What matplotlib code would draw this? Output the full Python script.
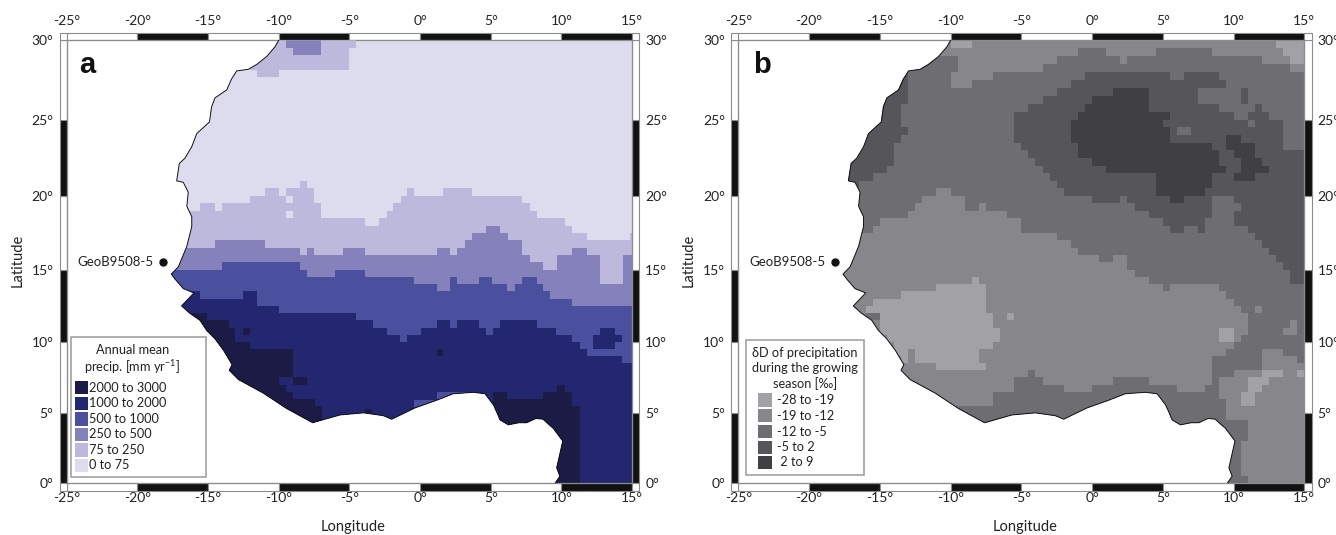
#!/usr/bin/env python3
"""West Africa maps: a) annual mean precipitation, b) dD of growing season rain."""
import numpy as np
import matplotlib
matplotlib.use("Agg")
import matplotlib.pyplot as plt
from matplotlib.colors import ListedColormap, BoundaryNorm
from matplotlib.patches import Polygon, Rectangle
from matplotlib.path import Path
from matplotlib.transforms import ScaledTranslation

W, H = 1336, 535
plt.rcParams["font.family"] = ["Lato", "DejaVu Sans"]

LON_TICKS = [-25, -20, -15, -10, -5, 0, 5, 10, 15]
LAT_TICKS = [0, 5, 10, 15, 20, 25, 30]
SITE_LON, SITE_LAT = -18.2, 15.5
SITE_NAME = "GeoB9508-5"

COAST_LON = [-10, -10.26, -10.85, -11.56, -12.15, -12.97, -13.33, -13.68, -14.5, -14.74, -14.9,
             -15.8, -16.15, -16.63, -17.03, -17.22, -16.75, -16.4, -16.5, -16.15, -16.15, -16.5,
             -17.1, -17.6, -17.33, -16.75, -16.0, -16.87, -16.3, -15.57, -15.1, -14.5, -13.9, -13.3,
             -13.5, -12.85, -11.1, -9.43, -7.6, -5.66, -4.0, -2.6, -2.0, -0.35, 1.2, 2.35,
             3.77, 4.6, 5.2, 5.45, 5.66, 6.25, 7.0, 7.55, 8.2, 8.7, 9.2, 9.43, 10.1, 9.67, 9.9, 9.55]
COAST_LAT = [30, 29.6, 29.0, 28.5, 28.2, 28.1, 27.6, 26.9, 26.4, 25.85, 24.85,
             24.1, 23.25, 22.5, 22.15, 21.0, 20.9, 20.25, 19.3, 18.6, 17.95, 16.6,
             15.2, 14.7, 14.35, 13.7, 13.4, 12.5, 12.0, 11.5, 10.8, 10.2, 9.4, 8.4,
             8.0, 7.35, 6.4, 5.3, 4.3, 4.85, 5.0, 4.8, 4.55, 5.35, 5.9, 6.35,
             6.45, 6.35, 5.55, 5.0, 4.5, 4.15, 4.3, 4.3, 4.6, 4.55, 4.1, 3.9, 3.0, 1.1, 0.5, 0]

# panel a: classes, northern limit of each class as a step line (lon edges, lat)
PRECIP_LABELS = ["2000 to 3000", "1000 to 2000", "500 to 1000", "250 to 500", "75 to 250", "0 to 75"]
PRECIP_COLORS = ["#1b1b45", "#23276f", "#4a509d", "#8581bb", "#bdb9dc", "#dcdcee"]

LIM75_LON = [-18, -15.55, -14.5, -14, -12, -11, -10, -9.5, -8.5, -8, -7.5, -7, -3.9, -2.9, -2.35, -1.9,
             -1.35, -0.9, -0.4, 1.6, 3.7, 7.2, 7.75, 8.25, 10.25, 10.75, 11.8, 14.85, 15]
LIM75_LAT = [19, 19.5, 19, 19.5, 20, 20.5, 20, 20.5, 21, 20.5, 19.5, 18.5, 18, 18.5, 19, 19.5,
             20, 20.5, 20, 20.5, 20, 19.5, 19, 18.5, 18, 17.5, 17, 17.5]
LIM250_LON = [-18, -14.5, -11, -8.5, -8, -7.5, -5.45, -3.9, 1.2, 2.1, 2.65, 3.15, 3.7, 4.7, 5.65, 6.2,
              7.2, 7.75, 8.7, 9.7, 10.75, 11.8, 12.75, 14.35, 15]
LIM250_LAT = [16.5, 17, 16.5, 16, 16.5, 16, 16.5, 16, 16.5, 16, 16.5, 17, 17.5, 18, 17.5, 17,
              16, 15.5, 15, 16, 16.5, 16, 14, 16]
LIM500_LON = [-18, -14, -8.5, -8, -6, -3.9, -0.4, 1.2, 2.1, 2.65, 4.2, 5.1, 6.15, 6.7, 7.2, 8.25,
              8.7, 9.2, 10.75, 15]
LIM500_LAT = [15, 15.5, 15, 14.5, 15, 14.5, 14, 13.5, 14.5, 14, 14.5, 14, 13.5, 14, 14.5, 14,
              13.5, 13, 12.5]
LIM1000_LON = [-18, -15.55, -12.5, -11.5, -10, -4.5, -3.35, -2.35, -1.4, -0.9, 0.1, 1.2, 2.1, 2.65,
               4.2, 4.7, 5.15, 5.65, 8.25, 9.65, 10.75, 11.3, 11.8, 14.3, 15]
LIM1000_LAT = [13.5, 13, 13.5, 12.5, 12, 11.5, 11, 10.5, 10, 10.5, 11, 11.5, 11, 11.5, 11, 10.5, 11,
               11.5, 11, 10.5, 10, 9.5, 9, 8.5]
LIM2000W_LON = [-18, -15.1, -13.5, -13.1, -12.05, -9, -8, -7.45, -6.95]
LIM2000W_LAT = [12, 11.5, 11, 10, 9.5, 7.5, 6, 5.5]
LIM2000E_LON = [5.15, 6.15, 8.7, 9.7, 10.25, 10.75, 11.3]
LIM2000E_LAT = [6.5, 6, 6.5, 7, 6.5, 5.5]
# single blocks on top: class index, lon0, lon1, lat0, lat1
PRECIP_BLOCKS = [(4, -12, -5, 28.15, 30), (4, -11.5, -10, 27.7, 28.15), (4, -5, -4.5, 29.5, 30),
                 (3, -9.5, -7, 29.5, 30), (3, -9, -7, 29.1, 29.5),
                 (5, -9.5, -9, 19.5, 20), (5, -9.5, -9, 18.5, 19),
                 (1, 12.75, 13.8, 10.5, 11), (1, 12.25, 14.3, 10, 10.5), (1, 12.25, 13.8, 9.5, 10),
                 (1, -10, -9, 7, 7.5), (1, -9.5, -9, 6.5, 7), (1, -9, -8, 6, 7),
                 (0, -12.5, -12, 10.5, 11), (0, 1.2, 1.6, 9, 9.5), (0, -3.9, -3.4, 5, 5.3),
                 (2, 1.2, 3.7, 6, 6.5), (2, -0.4, 1.2, 5.4, 5.9)]

# panel b: class regions as outlines in lon/lat, snapped to the 0.5 degree model grid
DELTA_LABELS = ["-28 to -19", "-19 to -12", "-12 to -5", "-5 to 2", " 2 to 9"]
DELTA_COLORS = ["#a2a2a6", "#87878b", "#6e6e72", "#56565a", "#404044"]

NORTH_BAND = [(-11, 30.2), (15.2, 30.2), (15.2, 28.05), (12.56, 28.6), (10.68, 29), (8.33, 29.3),
              (7.39, 29.3), (6.68, 29.6), (5.04, 29.6), (4.56, 29.2), (3.27, 28.9), (1.86, 28.65),
              (1.27, 29.2), (0.8, 29.6), (-0.26, 29.6), (-1.55, 29.1), (-3.3, 28.5), (-3.44, 28.05),
              (-5, 28.05), (-5.8, 28.1), (-6.2, 28.15), (-7.8, 27.45), (-8.6, 27.45), (-8.6, 28.15),
              (-9.6, 28.15), (-9.6, 29), (-11, 29)]
NORTH_BOX = [(-9.93, 27.1), (-8.64, 27.1), (-8.64, 27.75), (-9.93, 27.75)]
NE_CORNER = [(12.56, 30.2), (13.27, 29.6), (13.98, 28.65), (15.2, 28.65), (15.2, 30.2)]
NW_PATCH = [(-10.2, 29.6), (-8.7, 29.6), (-8.7, 30.2), (-10.2, 30.2)]
SAHARA_COAST = [(-13, 28.1), (-12.75, 28.1), (-12.75, 26.9), (-13.1, 26.9), (-13.1, 26.05), (-13.6, 25.6),
                (-13.7, 24.85), (-13.1, 24.5), (-13.1, 24), (-14.04, 23.45), (-14.15, 22.35), (-14.5, 21.7),
                (-15.45, 21.35), (-16.15, 20.9), (-16.85, 20.6), (-18, 20.6), (-18, 28.1)]
CENTRAL_3 = [(-5.79, 24.65), (-5.08, 25.5), (-4.38, 25.7), (-2.96, 26.5), (-1.08, 27.6), (1.04, 28.05),
             (5.27, 28.05), (5.74, 27.7), (6.33, 27.7), (6.45, 28.05), (7.04, 27.75), (7.39, 28.05),
             (8.45, 28.05), (9.15, 27.5), (9.74, 27.2), (9.27, 26.8), (7.74, 26.8), (7.74, 26.15),
             (8.56, 25.85), (9.74, 25.3), (10.8, 24.85), (11.5, 24.2), (11.5, 24.75), (10.8, 24.95),
             (10.8, 25.5), (12.09, 25.3), (13.62, 24.85), (13.62, 23.55), (13.27, 22.9), (15.2, 22.9),
             (15.2, 14.15), (14.2, 14.15), (14, 15.25), (13.74, 15), (13.27, 15.6), (12.56, 15.9),
             (12.56, 16.35), (10.92, 17.7), (10.16, 18.25), (10.16, 18.95), (10.45, 19.05), (10.45, 19.6),
             (9.5, 20.15), (9.27, 19.95), (8.68, 19.95), (8.56, 18.6), (7.98, 18.15), (7.98, 17.6),
             (7.39, 17.6), (7.39, 17.95), (6.33, 17.95), (6.33, 17.6), (5.74, 17.6), (5.74, 17.95),
             (3.86, 18.85), (2.92, 19.15), (2.56, 19.8), (1.04, 19.6), (0.09, 19.6), (0.09, 19.95),
             (-1.79, 19.95), (-2.38, 20.7), (-4.38, 22.55), (-5.32, 23.65)]
BOX_3A = [(10.45, 26.8), (11.15, 26.8), (11.15, 26.15), (10.8, 26.15), (10.8, 25.85), (10.45, 25.85)]
BOX_3B = [(11.5, 25.5), (11.86, 25.5), (11.86, 26.15), (11.5, 26.15)]
BLOB_4A = [(2.21, 27.1), (3.62, 27.1), (3.91, 26.8), (3.91, 25.85), (4.33, 25.5), (5.27, 25.5), (5.27, 25.2),
           (4.99, 25.2), (4.99, 24.45), (5.39, 24.45), (5.39, 23.55), (5.98, 23.35), (6.68, 23.35),
           (6.68, 23.55), (8.09, 23.55), (8.56, 23.1), (9.15, 22.55), (9.15, 22), (9.5, 21.7), (8.56, 21.6),
           (8.45, 20.9), (7.74, 19.95), (6.33, 19.95), (6.33, 19.6), (5.74, 19.6), (5.74, 19.95),
           (4.68, 20.25), (4.33, 20.9), (4.33, 21.6), (1.5, 21.6), (0.33, 22.1), (-0.96, 22.8),
           (-1.32, 23.45), (-1.32, 24.85), (-0.26, 26.05), (0.8, 26.5), (1.5, 26.5), (1.5, 26.8), (2.21, 26.8)]
BLOB_4B = [(9.46, 23.45), (9.86, 23.9), (10.49, 23.9), (10.49, 23.25), (11.27, 23.25), (11.86, 22.55),
           (11.86, 22), (12.28, 21.9), (12.28, 21.35), (11.5, 21.25), (11.5, 20.9), (9.79, 20.9),
           (9.79, 21.15), (10.45, 21.7), (10.45, 22.45), (9.86, 22.9), (9.46, 23)]
HOLE_2 = [(5.98, 23.9), (7.04, 23.9), (7.04, 24.55), (5.98, 24.55)]
SOUTH_1 = [(-18, 17.7), (-15.45, 17.7), (-15.45, 18.15), (-14.98, 18.25), (-12.4, 18.95), (-12.4, 19.6),
           (-11.57, 19.8), (-11, 20.6), (-10.28, 20.6), (-8.87, 19.5), (-8.87, 19.05), (-7.7, 19.3),
           (-5.59, 18.6), (-5.12, 18.4), (-4.73, 17.7), (-2.96, 17.5), (-1.08, 16.35), (1.03, 15.45),
           (1.5, 15.9), (2.56, 15.9), (2.68, 15.25), (3.27, 14.4), (4.56, 14.2), (5.27, 13.7), (5.98, 14.2),
           (7.62, 14.2), (8.8, 13.8), (9.5, 13), (11.15, 11.9), (11.15, 11), (10.45, 10), (9.27, 9.2),
           (8.56, 8.6), (8.56, 7.45), (7.74, 6.6), (6.45, 6.6), (5.5, 7.05), (4.33, 7.2), (2.56, 7.45),
           (1.27, 7.2), (0.09, 6.7), (0.09, 6.25), (-0.56, 6.25), (-1.55, 6.6), (-3.2, 7.05), (-4.14, 7.85),
           (-5.08, 7.5), (-5.79, 6.55), (-6.88, 6.5), (-6.88, 5.55), (-9.93, 5.45), (-12, 5), (-18, 5)]
GUINEA_0 = [(-15.68, 13.1), (-15.45, 13.35), (-15.21, 13), (-14.5, 13), (-13.1, 13.35), (-12.75, 13.55),
            (-11.22, 13.55), (-10.99, 13.9), (-10.28, 13.75), (-9.58, 14.15), (-8.64, 14.15), (-8.52, 14.5),
            (-7.93, 14.5), (-7.82, 13.9), (-7.35, 13.9), (-7.35, 12.3), (-7.11, 11.4), (-6.53, 10.9),
            (-6.53, 9.9), (-7.82, 9.3), (-7.82, 8.6), (-7.46, 8.4), (-7.46, 7.95), (-8.87, 7.95), (-9.34, 8.25),
            (-10.28, 7.95), (-10.75, 7.7), (-10.75, 7.95), (-11.57, 8.6), (-12.35, 8.6), (-12.35, 9.65),
            (-12.75, 9.65), (-12.75, 8.85), (-13.57, 8.5), (-14, 9.5), (-14.39, 10.1), (-14.39, 10.7),
            (-15.21, 10.7), (-15.21, 12.1), (-15.8, 12.1)]
SQUARE_0A = [(-6.1, 11.6), (-5.47, 11.6), (-5.47, 12.1), (-6.1, 12.1)]
SQUARE_0B = [(9.1, 9.8), (9.8, 9.8), (9.8, 11.05), (9.1, 11.05)]
SQUARE_0C = [(14.3, 7.3), (15.2, 7.3), (15.2, 7.9), (14.3, 7.9)]
CAMEROON_1 = [(9.15, 7.2), (10.2, 7.9), (11.86, 8.25), (11.86, 9.3), (12.33, 9.65), (13.5, 9.55), (13.62, 8.85),
              (15.2, 8.6), (15.2, -0.2), (9.5, -0.2), (9.74, 5.3), (9.5, 5.8), (8.8, 5.8), (8.8, 6.5), (9.15, 6.6)]
STRIP_2 = [(9.86, 4.7), (10.8, 4.7), (11.15, 4.5), (11.15, 3.8), (10.8, 3.7), (10.68, 2), (10.45, 1.4),
           (10.96, -0.2), (8.33, -0.2), (8.33, 4.7)]
STRIPE_0 = [(10.45, 6.25), (11.15, 7.2), (12.33, 7.9), (13.62, 7.9), (12.8, 7.3), (11.74, 6.4), (11.5, 5.55),
            (10.45, 5.55)]
SPOT_1A = [(11.7, 12), (12.1, 12), (12.1, 12.5), (11.7, 12.5)]
SPOT_1B = [(13.27, 10.4), (13.27, 11.05), (13.98, 11.05), (13.98, 11.4), (14.68, 11.4), (14.68, 10.7),
           (13.98, 10.7), (13.98, 10.4)]
GUINEA_2 = [(-15.8, 11.4), (-15.2, 11.4), (-15.2, 12.1), (-15.8, 12.1)]
DELTA_BASE = 2
# painted in this order, later regions on top
DELTA_LAYERS = [(1, NORTH_BAND), (1, NORTH_BOX), (0, NE_CORNER), (0, NW_PATCH), (3, SAHARA_COAST), (3, CENTRAL_3),
                (3, BOX_3A), (3, BOX_3B), (4, BLOB_4A), (4, BLOB_4B), (2, HOLE_2), (1, SOUTH_1), (0, GUINEA_0),
                (0, SQUARE_0A), (0, SQUARE_0B), (1, CAMEROON_1), (2, STRIP_2), (0, STRIPE_0), (0, SQUARE_0C),
                (1, SPOT_1A), (1, SPOT_1B), (2, GUINEA_2)]


def merc(lat):
    return np.degrees(np.log(np.tan(np.radians(45 + np.asarray(lat, float) / 2))))


def merc_inv(y):
    return 2 * np.degrees(np.arctan(np.exp(np.radians(y)))) - 90


def fx(px):
    return px / W


def fy(py):
    return 1 - py / H


def make_map(fig, x0, x1, letter, letter_xy):
    ax = fig.add_axes([fx(x0), fy(483.3), (x1 - x0) / W, 443 / H])
    ax.set_yscale("function", functions=(merc, merc_inv))
    ax.set_xlim(-25, 15); ax.set_ylim(0, 30)
    ax.set_xticks(LON_TICKS); ax.set_xticklabels([f"{v}°" for v in LON_TICKS])
    ax.set_yticks(LAT_TICKS); ax.set_yticklabels([f"{v}°" for v in LAT_TICKS])
    ax.minorticks_off()
    ax.tick_params(length=0, labelsize=10, labeltop=True, labelright=True, pad=9.5, colors="#222222")
    ax.tick_params(axis="x", pad=6.5)
    shift = ScaledTranslation(0, 3 / 72, fig.dpi_scale_trans)
    for tick in ax.xaxis.get_major_ticks():
        tick.label2.set_transform(tick.label2.get_transform() + shift)
    for sp in ax.spines.values():
        sp.set_color("#8c8c8c"); sp.set_linewidth(0.9)

    # checkered frame outside of the axes
    bx, by = 7.2 / (x1 - x0), 7.2 / 443
    xt, yt = ax.get_xaxis_transform(), ax.get_yaxis_transform()
    for i, a in enumerate(LON_TICKS[:-1]):
        c = "#111111" if i % 2 else "white"
        for y in (-by, 1):
            ax.add_patch(Rectangle((a, y), 5, by, transform=xt, clip_on=False, fc=c, ec="#8c8c8c", lw=0.8))
    for i, a in enumerate(LAT_TICKS[:-1]):
        c = "white" if i % 2 else "#111111"
        for x in (-bx, 1):
            ax.add_patch(Rectangle((x, a), bx, 5, transform=yt, clip_on=False, fc=c, ec="#8c8c8c", lw=0.8))
    for x in (-bx, 1):
        for y in (-by, 1):
            ax.add_patch(Rectangle((x, y), bx, by, transform=ax.transAxes, clip_on=False,
                                   fc="white", ec="#8c8c8c", lw=0.8))

    ax.plot([SITE_LON], [SITE_LAT], "o", color="#111111", ms=5, zorder=6)
    ax.annotate(SITE_NAME, (SITE_LON, SITE_LAT), xytext=(-9, 0), textcoords="offset pixels",
                ha="right", va="center", fontsize=9.5, color="#222222")
    fig.text(fx(letter_xy[0]), fy(letter_xy[1]), letter, family=["Liberation Sans"], fontweight="bold",
             fontsize=21, ha="left", va="baseline", color="#111111")
    fig.text(fx(x0 - 49.5), fy(260), "Latitude", rotation=90, ha="center", va="center",
             fontsize=10.5, color="#222222")
    fig.text(fx((x0 + x1) / 2 + 4), fy(527), "Longitude", ha="center", va="center",
             fontsize=10.5, color="#222222")
    return ax


def land_patch(ax, color):
    verts = list(zip(COAST_LON, COAST_LAT)) + [(15, 0), (15, 30)]
    land = Polygon(verts, closed=True, fc=color, ec="none", zorder=1)
    ax.add_patch(land)
    return land


def legend_box(fig, box, title_lines, title_x, title_ys, swatch_x, swatches, labels, colors, label_x):
    x0, y0, x1, y1 = box
    fig.add_artist(Rectangle((fx(x0), fy(y1)), (x1 - x0) / W, (y1 - y0) / H, transform=fig.transFigure,
                             fc="white", ec="#9a9a9a", lw=1.1, zorder=8))
    for line, yy in zip(title_lines, title_ys):
        fig.text(fx(title_x), fy(yy), line, ha="center", va="center", fontsize=9.2, color="#222222", zorder=9)
    for (ya, yb), lab, col in zip(swatches, labels, colors):
        fig.add_artist(Rectangle((fx(swatch_x[0]), fy(yb)), (swatch_x[1] - swatch_x[0]) / W, (yb - ya) / H,
                                 transform=fig.transFigure, fc=col, ec="none", zorder=9))
        fig.text(fx(label_x), fy((ya + yb) / 2), lab, ha="left", va="center", fontsize=9.2,
                 color="#222222", zorder=9)


fig = plt.figure(figsize=(W / 100, H / 100), dpi=100)

# ---- a: precipitation
ax = make_map(fig, 66.7, 632, "a", (79, 73))
land = land_patch(ax, PRECIP_COLORS[5])
steps = [(4, LIM75_LON, LIM75_LAT), (3, LIM250_LON, LIM250_LAT), (2, LIM500_LON, LIM500_LAT),
         (1, LIM1000_LON, LIM1000_LAT), (0, LIM2000W_LON, LIM2000W_LAT), (0, LIM2000E_LON, LIM2000E_LAT)]
for cls, lons, lats in steps:
    st = ax.stairs(lats, lons, baseline=0, fill=True, color=PRECIP_COLORS[cls], lw=0, zorder=2)
    st.set_clip_path(land)
for cls, a, b, lo, hi in PRECIP_BLOCKS:
    st = ax.stairs([hi], [a, b], baseline=lo, fill=True, color=PRECIP_COLORS[cls], lw=0, zorder=3)
    st.set_clip_path(land)
ax.plot(COAST_LON, COAST_LAT, color="#111111", lw=0.7, zorder=5)
legend_box(fig, (71, 337, 205.5, 476.5), ["Annual mean", r"precip. [mm yr$^{\mathregular{-1}}$]"], 132.5, (350, 367),
           (74.7, 88), [(381, 394.3), (396.5, 410), (412, 425.7), (427.5, 441), (443, 456.7), (458.5, 472)],
           PRECIP_LABELS, PRECIP_COLORS, 89.5)

# ---- b: delta D
ax = make_map(fig, 738.3, 1304.3, "b", (753, 73))
land = land_patch(ax, DELTA_COLORS[DELTA_BASE])
lon_edges = np.arange(-25, 15.01, 0.5)
lat_edges = np.arange(0, 30.01, 0.5)
cx, cy = np.meshgrid((lon_edges[:-1] + lon_edges[1:]) / 2, (lat_edges[:-1] + lat_edges[1:]) / 2)
pts = np.column_stack([cx.ravel(), cy.ravel()])
grid = np.full(cx.shape, DELTA_BASE)
for cls, outline in DELTA_LAYERS:
    grid[Path(outline + outline[:1]).contains_points(pts).reshape(cx.shape)] = cls
cmap = ListedColormap(DELTA_COLORS)
mesh = ax.pcolormesh(lon_edges, lat_edges, grid, cmap=cmap, norm=BoundaryNorm(np.arange(-0.5, 5), 5), zorder=2)
mesh.set_clip_path(land)
ax.plot(COAST_LON, COAST_LAT, color="#111111", lw=0.7, zorder=5)
legend_box(fig, (745.7, 340.3, 864.3, 475), ["δD of precipitation", "during the growing", "season [‰]"], 805,
           (353, 368.3, 383.3), (758, 771.7),
           [(393.3, 406.7), (409, 422.3), (425, 438.3), (440.7, 453.7), (455.7, 469)],
           DELTA_LABELS, DELTA_COLORS, 777)

fig.savefig("out.png", dpi=100)
